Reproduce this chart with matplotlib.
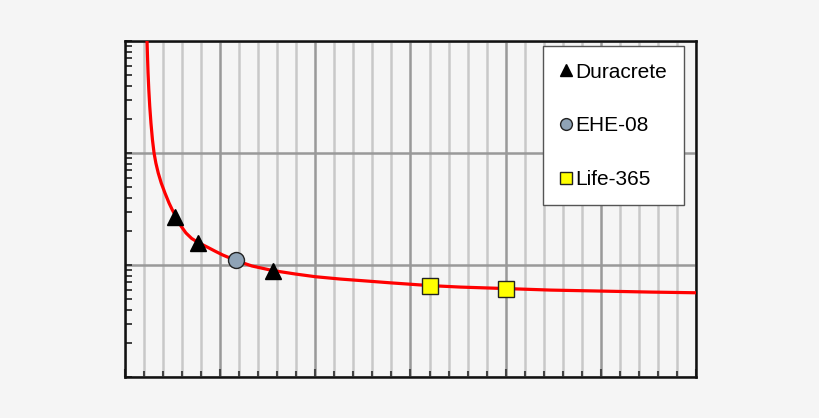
import matplotlib
matplotlib.use("Agg")
import matplotlib.pyplot as plt
from matplotlib.ticker import LogLocator, MultipleLocator, NullFormatter
from matplotlib.lines import Line2D

# Curve (x in arbitrary units 0..30, y on log scale 0.1..100)
curve_x = [1.158, 1.182, 1.211, 1.25, 1.30, 1.363, 1.442, 1.526, 1.621, 1.747,
           1.905, 2.10, 2.316, 2.484, 2.684, 2.937, 3.20, 3.50, 3.858, 4.289,
           4.763, 5.132, 5.826, 6.668, 7.753, 8.947, 10.0, 11.316, 12.72, 13.947,
           16.0, 17.63, 20.02, 22.37, 25.0, 27.63, 30.0]
curve_y = [100.0, 73.2, 52.0, 36.9, 26.1, 18.56, 13.15, 10.0, 8.14, 6.62,
           5.39, 4.39, 3.57, 3.11, 2.69, 2.234, 1.934, 1.727, 1.584, 1.455,
           1.321, 1.229, 1.097, 0.980, 0.893, 0.831, 0.786, 0.749, 0.719, 0.693,
           0.655, 0.635, 0.616, 0.597, 0.585, 0.573, 0.565]

duracrete_x = [2.632, 3.858, 7.753]
duracrete_y = [2.69, 1.584, 0.893]
ehe_x = [5.826]
ehe_y = [1.097]
life_x = [16.0, 20.02]
life_y = [0.655, 0.616]

legend_labels = ["Duracrete", "EHE-08", "Life-365"]

BG = "#f5f5f5"
fig = plt.figure(figsize=(8.2, 4.18), dpi=100, facecolor=BG)
ax = fig.add_axes([125 / 820, 41 / 418, 571 / 820, 336 / 418], facecolor=BG)

ax.set_yscale("log")
ax.set_xlim(0, 30)
ax.set_ylim(0.1, 100)

ax.xaxis.set_major_locator(MultipleLocator(5))
ax.xaxis.set_minor_locator(MultipleLocator(1))
ax.yaxis.set_major_locator(LogLocator(base=10))
ax.yaxis.set_minor_locator(LogLocator(base=10, subs=range(2, 10)))
for a in (ax.xaxis, ax.yaxis):
    a.set_major_formatter(NullFormatter())
    a.set_minor_formatter(NullFormatter())

ax.grid(True, which="minor", axis="x", color="#c8c8c8", linewidth=1.8, zorder=0)
ax.grid(True, which="major", axis="x", color="#999999", linewidth=1.8, zorder=0)
ax.grid(True, which="major", axis="y", color="#999999", linewidth=1.8, zorder=0)
ax.set_axisbelow(True)

ax.tick_params(axis="x", which="both", direction="in", bottom=True, top=False,
               color="#444444", width=1.5)
ax.tick_params(axis="x", which="major", length=6)
ax.tick_params(axis="x", which="minor", length=4)
ax.tick_params(axis="y", which="both", direction="in", left=True, right=False,
               color="#222222", width=1.2, length=5)

for s in ax.spines.values():
    s.set_color("#111111")
    s.set_linewidth(1.8)

ax.plot(curve_x, curve_y, color="#ff0000", linewidth=2.3, zorder=3,
        solid_joinstyle="round")
ax.plot(duracrete_x, duracrete_y, linestyle="none", marker="^", markersize=12,
        markerfacecolor="black", markeredgecolor="black", zorder=4)
ax.plot(ehe_x, ehe_y, linestyle="none", marker="o", markersize=11.5,
        markerfacecolor="#8fa3b6", markeredgecolor="#222222", markeredgewidth=1.0, zorder=4)
ax.plot(life_x, life_y, linestyle="none", marker="s", markersize=11.5,
        markerfacecolor="#ffff00", markeredgecolor="#222222", markeredgewidth=1.0, zorder=4)

handles = [
    Line2D([], [], linestyle="none", marker="^", markersize=9,
           markerfacecolor="black", markeredgecolor="black"),
    Line2D([], [], linestyle="none", marker="o", markersize=8.5,
           markerfacecolor="#8fa3b6", markeredgecolor="#222222", markeredgewidth=1.0),
    Line2D([], [], linestyle="none", marker="s", markersize=8,
           markerfacecolor="#ffff00", markeredgecolor="#222222", markeredgewidth=1.0),
]
leg = ax.legend(handles, legend_labels, loc="upper right",
                bbox_to_anchor=((684 - 125) / 571, (377 - 46) / 336),
                borderaxespad=0, fancybox=False, framealpha=1,
                prop={"family": "Liberation Sans", "size": 15},
                labelspacing=1.66, handlelength=0.55, handletextpad=0.2,
                borderpad=0.8)
leg.get_frame().set_edgecolor("#555555")
leg.get_frame().set_linewidth(1.0)
leg.set_zorder(5)

fig.savefig("out.png", dpi=100, facecolor=BG)
